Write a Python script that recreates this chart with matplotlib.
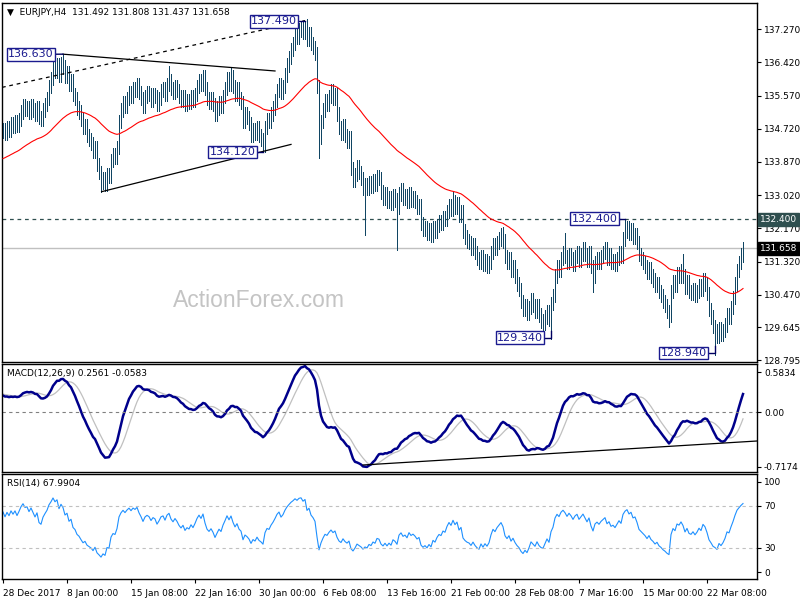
import matplotlib.pyplot as plt
import numpy as np
import pandas as pd

# EURJPY H4 closes, bars before 28 Dec only feed the averages
warmup_close = [132.60, 132.70, 132.55, 132.75, 132.85, 132.70, 132.80, 132.95, 132.90, 133.05,
                132.95, 133.10, 133.20, 133.05, 133.15, 133.30, 133.25, 133.40, 133.35, 133.20,
                133.35, 133.50, 133.45, 133.60, 133.55, 133.70, 133.65, 133.50, 133.60, 133.75,
                133.85, 133.80, 133.95, 133.90, 134.05, 133.95, 134.10, 134.20, 134.15, 134.00,
                134.10, 134.25, 134.35, 134.30, 134.20, 134.35, 134.45, 134.40, 134.30, 134.45,
                134.55, 134.50, 134.60, 134.45, 134.55, 134.65, 134.60, 134.70, 134.55, 134.65]

close = [134.70, 134.60, 134.75, 134.68, 134.85, 134.78, 134.90, 134.80, 134.95, 135.15,
         135.30, 135.22, 135.25, 135.15, 135.30, 135.20, 135.10, 135.25, 135.00, 134.95,
         135.20, 135.35, 135.50, 135.80, 136.00, 136.30, 136.20, 136.35, 136.10, 136.40,
         136.30, 136.05, 136.15, 135.85, 135.95, 135.60, 135.50, 135.25, 135.15, 134.95,
         134.75, 134.80, 134.55, 134.45, 134.35, 134.15, 134.25, 133.80, 133.60, 133.35,
         133.45, 133.30, 133.55, 133.50, 133.90, 134.05, 134.00, 134.25, 134.90, 135.20,
         135.40, 135.30, 135.50, 135.65, 135.55, 135.75, 135.70, 135.85, 135.65, 135.50,
         135.30, 135.55, 135.65, 135.60, 135.45, 135.60, 135.55, 135.35, 135.50, 135.70,
         135.75, 135.60, 135.85, 135.95, 135.75, 135.65, 135.80, 135.70, 135.55, 135.45,
         135.55, 135.35, 135.45, 135.40, 135.55, 135.45, 135.60, 135.80, 135.95, 135.85,
         136.05, 135.75, 135.50, 135.40, 135.50, 135.35, 135.10, 135.25, 135.40, 135.30,
         135.55, 135.75, 136.00, 135.85, 136.05, 135.80, 135.60, 135.75, 135.50, 135.40,
         134.90, 135.10, 135.00, 134.85, 134.55, 134.70, 134.60, 134.75, 134.55, 134.45,
         134.30, 134.75, 134.95, 134.90, 135.10, 135.25, 135.45, 135.70, 135.85, 135.65,
         135.80, 136.10, 136.35, 136.55, 136.75, 136.90, 137.10, 137.05, 137.25, 137.30,
         137.20, 137.35, 137.00, 137.15, 136.90, 136.80, 136.65, 135.80, 134.50, 134.90,
         135.20, 135.45, 135.35, 135.55, 135.70, 135.50, 135.60, 135.10, 134.75, 134.60,
         134.80, 134.55, 134.40, 134.50, 133.70, 133.40, 133.55, 133.75, 133.60, 133.45,
         133.20, 133.30, 133.20, 133.35, 133.25, 133.40, 133.30, 133.50, 133.45, 133.10,
         132.95, 133.05, 132.85, 132.95, 132.80, 133.00, 132.90, 132.70, 133.05, 133.15,
         132.95, 133.00, 132.85, 133.05, 132.90, 132.95, 132.85, 132.70, 132.75, 132.30,
         132.15, 132.20, 132.05, 132.15, 132.00, 132.20, 132.10, 132.25, 132.35, 132.30,
         132.45, 132.40, 132.60, 132.75, 132.65, 132.85, 132.70, 132.80, 132.50, 132.60,
         132.10, 131.95, 131.85, 131.80, 131.65, 131.75, 131.55, 131.40, 131.30, 131.45,
         131.25, 131.35, 131.20, 131.30, 131.55, 131.75, 131.65, 131.80, 131.90, 132.00,
         131.85, 131.45, 131.30, 131.40, 131.10, 131.20, 130.95, 130.75, 130.60, 130.30,
         130.10, 130.20, 130.00, 130.15, 130.35, 130.20, 130.05, 130.20, 129.95, 129.80,
         129.75, 129.90, 130.05, 129.85, 130.25, 130.45, 130.95, 131.20, 131.10, 131.40,
         131.55, 131.45, 131.30, 131.50, 131.40, 131.25, 131.45, 131.55, 131.35, 131.50,
         131.65, 131.50, 131.35, 131.55, 131.20, 130.95, 131.30, 131.40, 131.30, 131.45,
         131.55, 131.65, 131.40, 131.50, 131.30, 131.35, 131.25, 131.40, 131.55, 131.45,
         131.90, 132.10, 132.20, 132.05, 132.15, 131.95, 132.00, 131.80, 131.50, 131.40,
         131.30, 131.20, 131.05, 131.15, 130.95, 130.85, 130.70, 130.75, 130.55, 130.45,
         130.30, 130.20, 130.05, 129.95, 130.55, 130.80, 130.70, 131.00, 130.95, 131.10,
         130.95, 130.65, 130.80, 130.55, 130.50, 130.60, 130.45, 130.55, 130.70, 130.60,
         130.85, 130.75, 130.50, 130.10, 129.90, 129.65, 129.55, 129.40, 129.60, 129.45,
         129.55, 129.70, 129.95, 129.90, 130.15, 130.40, 130.75, 131.10, 131.30, 131.492,
         131.658]

# bar extremes that stick out of the normal range (bar index -> price)
spike_high = {30: 136.63, 83: 136.33, 100: 136.23, 114: 136.30, 151: 137.49, 225: 133.09,
              250: 132.20, 281: 132.05, 311: 132.40, 340: 131.52}
spike_low = {49: 133.11, 130: 134.12, 158: 133.97, 181: 131.99, 197: 131.62, 274: 129.34,
             295: 130.54, 333: 129.64, 356: 128.94}

price_ticks = [137.270, 136.420, 135.570, 134.720, 133.870, 133.020, 132.170, 131.320,
               130.470, 129.645, 128.795]
date_labels = ['28 Dec 2017', '8 Jan 00:00', '15 Jan 08:00', '22 Jan 16:00', '30 Jan 00:00',
               '6 Feb 08:00', '13 Feb 16:00', '21 Feb 00:00', '28 Feb 08:00', '7 Mar 16:00',
               '15 Mar 00:00', '22 Mar 08:00']

# (label, bar of box centre, price of box centre, bar of extreme, price of extreme)
notes = [('136.630', 14.0, 136.625, 30, 136.63),
         ('137.490', 135.5, 137.47, 151, 137.47),
         ('134.120', 114.8, 134.13, 130, 134.13),
         ('132.400', 295.8, 132.42, 311, 132.42),
         ('129.340', 258.5, 129.37, 274, 129.37),
         ('128.940', 340.3, 128.98, 356, 128.98)]

n_warm = len(warmup_close)
c_all = pd.Series(warmup_close + close)
o_all = c_all.shift(1).fillna(c_all[0])
wick = 0.17
hi_all = np.maximum(o_all, c_all) + wick
lo_all = np.minimum(o_all, c_all) - wick
for k, v in spike_high.items():
    hi_all[n_warm + k] = v
for k, v in spike_low.items():
    lo_all[n_warm + k] = v

ema55 = c_all.ewm(span=55, adjust=False).mean()
macd = c_all.ewm(span=12, adjust=False).mean() - c_all.ewm(span=26, adjust=False).mean()
signal = macd.rolling(9).mean()
delta = c_all.diff().fillna(0)
up = delta.clip(lower=0).ewm(alpha=1 / 14, adjust=False).mean()
dn = (-delta.clip(upper=0)).ewm(alpha=1 / 14, adjust=False).mean()
rsi = 100 - 100 / (1 + up / dn)

x = np.arange(len(close))
hi = hi_all[n_warm:].values
lo = lo_all[n_warm:].values
ema55 = ema55[n_warm:].values
macd = macd[n_warm:].values
signal = signal[n_warm:].values
rsi = rsi[n_warm:].values

plt.rcParams['font.family'] = ['DejaVu Sans']
fs = 6.5
xmin, xmax = -0.5, 377.0

fig = plt.figure(figsize=(8, 6), dpi=100)
ax = fig.add_axes([0.0025, 0.39667, 0.94375, 0.59833])
ax_m = fig.add_axes([0.0025, 0.21333, 0.94375, 0.18])
ax_r = fig.add_axes([0.0025, 0.035, 0.94375, 0.175])

bar_col = '#104563'
ax.vlines(x, lo, hi, color=bar_col, lw=0.72, zorder=3, antialiased=False)
ax.plot(x, ema55, color='red', lw=0.8, zorder=4)

ax.axhline(132.40, color='#2f4f4f', lw=0.9, ls=(0, (3, 3)), zorder=2)
ax.axhline(close[-1], color='#c0c0c0', lw=1.0, zorder=1)

# trend lines
ax.plot([30, 136], [136.63, 136.20], color='black', lw=0.9, zorder=5)
ax.plot([-0.5, 151], [135.78, 137.49], color='black', lw=0.9, ls=(0, (3, 3)), zorder=5)
ax.plot([49.3, 144], [133.11, 134.32], color='black', lw=0.9, zorder=5)

for label, bx, by, ex, ey in notes:
    if label == '129.340':
        ax.plot([bx, ex, ex], [by, by, 129.55], color='#000060', lw=1, zorder=6)
    elif label == '128.940':
        ax.plot([bx, ex, ex], [by, by, 129.15], color='#000060', lw=1, zorder=6)
    else:
        ax.plot([bx, ex], [by, ey], color='#000060', lw=1, zorder=6)
    ax.text(bx, by, label, fontsize=8, color='#1b1b8f', ha='center', va='center', zorder=7,
            bbox=dict(boxstyle='square,pad=0.12', fc='white', ec='#1b1b8f', lw=1))

ax.text(0.34, 0.17, 'ActionForex.com', transform=ax.transAxes, fontsize=16.5,
        color='#c4c4c4', ha='center', va='center', family=['Liberation Sans'], zorder=0)
ax.text(0.007, 0.985, '\u25bc  EURJPY,H4  131.492 131.808 131.437 131.658', transform=ax.transAxes,
        fontsize=fs, va='top', ha='left')

ax.set_xlim(xmin, xmax)
ax.set_ylim(128.75, 137.94)
ax.set_yticks(price_ticks)
ax.set_yticklabels(['%.3f' % v for v in price_ticks])

# price tags on the right scale
tr = ax.get_yaxis_transform()
ax.text(1.004, 132.40, '132.400', transform=tr, fontsize=fs, color='white', va='center', ha='left',
        bbox=dict(boxstyle='square,pad=0.25', fc='#2f4f4f', ec='#2f4f4f'), zorder=10, clip_on=False)
ax.text(1.004, close[-1], '%.3f' % close[-1], transform=tr, fontsize=fs, color='white', va='center',
        ha='left', bbox=dict(boxstyle='square,pad=0.25', fc='black', ec='black'), zorder=10, clip_on=False)

# MACD
ax_m.plot(x, signal, color='#c0c0c0', lw=0.9)
ax_m.plot(x, macd, color='#00008b', lw=1.8)
ax_m.axhline(0, color='#808080', lw=0.8, ls=(0, (3, 3)))
ax_m.plot([180, xmax], [-0.633, -0.344], color='black', lw=0.9)
ax_m.set_xlim(xmin, xmax)
ax_m.set_ylim(-0.7174, 0.5834)
ax_m.set_yticks([0.487, 0.0, -0.654])
ax_m.set_yticklabels(['0.5834', '0.00', '-0.7174'])
ax_m.text(0.007, 0.95, 'MACD(12,26,9) 0.2561 -0.0583', transform=ax_m.transAxes, fontsize=fs,
          va='top', ha='left')

# RSI
ax_r.plot(x, rsi, color='#1e90ff', lw=0.8)
for lvl in (70, 30):
    ax_r.axhline(lvl, color='#c0c0c0', lw=0.8, ls=(0, (3, 3)))
ax_r.set_xlim(xmin, xmax)
ax_r.set_ylim(0, 100)
ax_r.set_yticks([92.7, 70, 30, 6.4])
ax_r.set_yticklabels(['100', '70', '30', '0'])
ax_r.text(0.007, 0.95, 'RSI(14) 67.9904', transform=ax_r.transAxes, fontsize=fs, va='top', ha='left')
ax_r.set_xticks(np.arange(len(date_labels)) * 32)
ax_r.set_xticklabels(date_labels, ha='left')
ax_r.tick_params(axis='x', length=3, pad=4, labelsize=fs)

for a in (ax, ax_m, ax_r):
    a.yaxis.tick_right()
    a.tick_params(axis='y', length=3, pad=2, labelsize=fs, direction='out')
    for s in a.spines.values():
        s.set_linewidth(1.0)
    if a is not ax_r:
        a.set_xticks([])

fig.savefig('out.png', dpi=100)
